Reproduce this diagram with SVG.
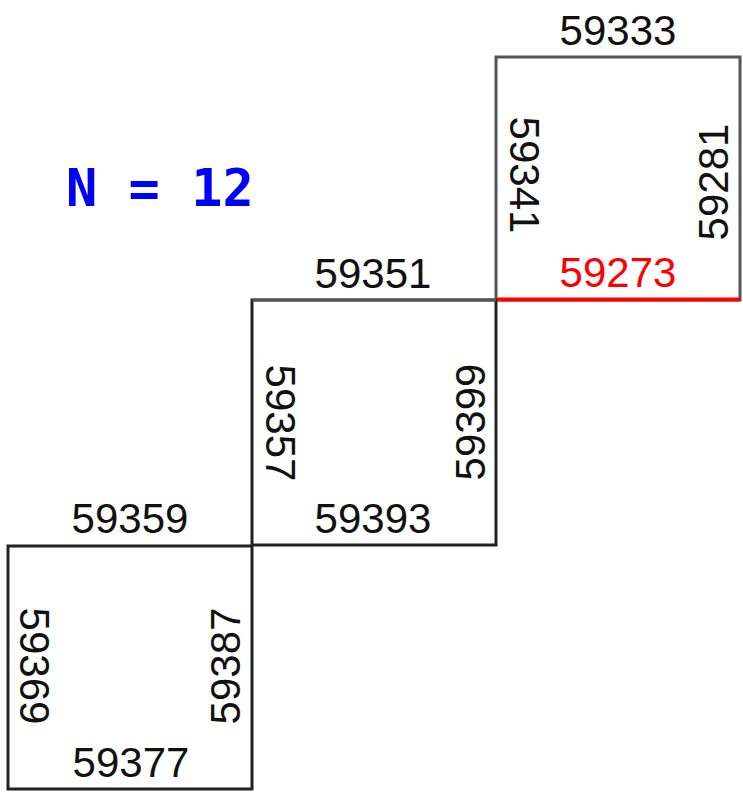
<svg xmlns="http://www.w3.org/2000/svg" width="743" height="792" viewBox="0 0 743 792">
<style>
.sq{fill:none;stroke:#222;stroke-width:3}
.lbl{font-family:"Liberation Sans",Arial,sans-serif;font-size:42px;fill:#111;text-anchor:middle}
.red{fill:#ff0000}
.title{font-family:"DejaVu Sans Mono",monospace;font-size:52px;font-weight:bold;fill:#0000ff}
</style>
<rect width="743" height="792" fill="#fff"/>
<text class="title" x="66" y="206" xml:space="preserve">N = 12</text>
<g id="square1">
<rect class="sq" x="496" y="57" width="244" height="243" style="stroke:#555"/>
<text class="lbl" x="618" y="45">59333</text>
<text class="lbl red" x="618" y="287">59273</text>
<text class="lbl" transform="translate(525,175) rotate(90)" x="0" y="15">59341</text>
<text class="lbl" transform="translate(713,182) rotate(-90)" x="0" y="15">59281</text>
</g>
<g id="square2">
<rect class="sq" x="252" y="300" width="244" height="245"/>
<line x1="252" y1="300" x2="496" y2="300" style="stroke:#555;stroke-width:3"/>
<text class="lbl" x="373" y="288">59351</text>
<text class="lbl" x="373" y="533">59393</text>
<text class="lbl" transform="translate(281,423) rotate(90)" x="0" y="15">59357</text>
<text class="lbl" transform="translate(470,422) rotate(-90)" x="0" y="15">59399</text>
</g>
<g id="square3">
<rect class="sq" x="8" y="546" width="244" height="243"/>
<text class="lbl" x="130" y="533">59359</text>
<text class="lbl" x="131" y="777">59377</text>
<text class="lbl" transform="translate(35,666) rotate(90)" x="0" y="15">59369</text>
<text class="lbl" transform="translate(225,666) rotate(-90)" x="0" y="15">59387</text>
</g>
<g id="connectors">
<line x1="497" y1="299.5" x2="740" y2="299.5" stroke="#ff0000" stroke-width="4"/>
</g>
</svg>
